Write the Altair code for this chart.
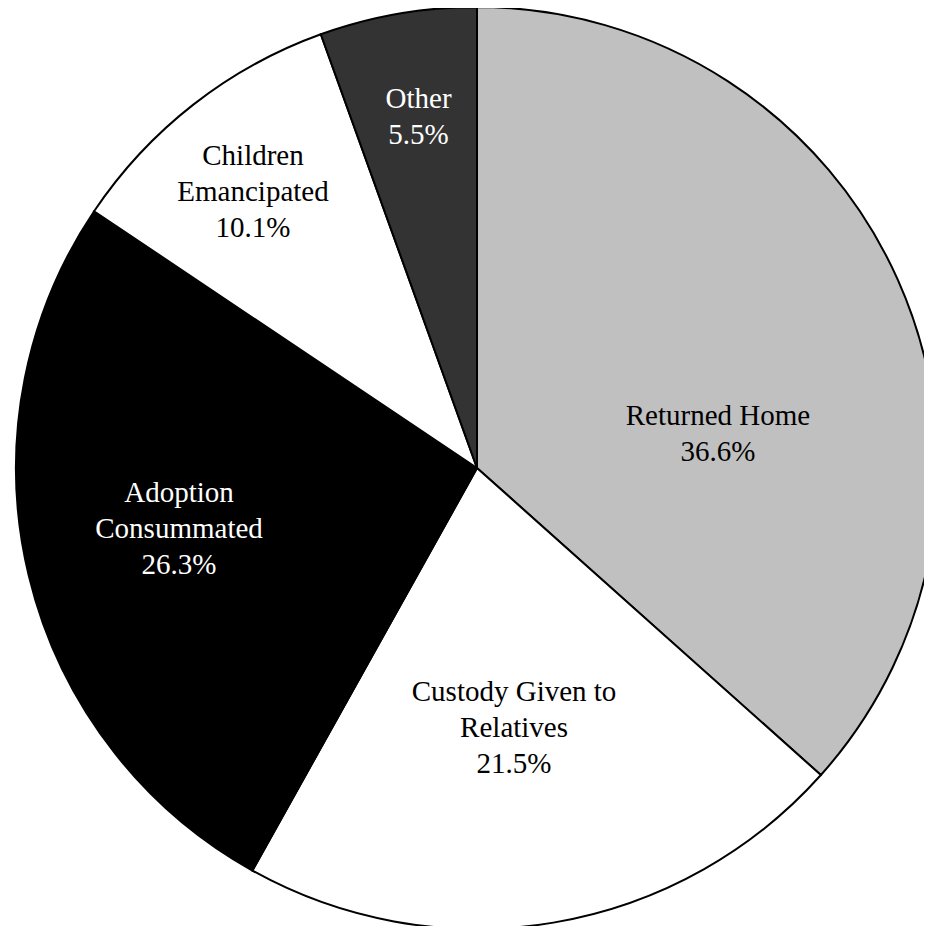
import altair as alt
import pandas as pd

# Data
categories = ["Returned Home", "Custody Given to Relatives", "Adoption Consummated",
              "Children Emancipated", "Other"]
label_text = ["Returned Home", "Custody Given to\nRelatives", "Adoption\nConsummated",
              "Children\nEmancipated", "Other"]
values = [36.6, 21.5, 26.3, 10.1, 5.5]

# Styles (not data)
slice_colors = ["#c0c0c0", "#ffffff", "#000000", "#ffffff", "#333333"]
text_colors = ["#000000", "#000000", "#ffffff", "#000000", "#ffffff"]
label_radius = [246.5, 227.0, 299.0, 384.1, 373.6]   # px from centre (first line)
label_shift = [3.31, 0.04, 2.42, 0.64, 0.25]         # percent of circle

df = pd.DataFrame({"category": categories, "label": label_text, "value": values,
                   "order": list(range(len(categories)))})
cum = df["value"].cumsum()
df["mid"] = cum - df["value"] / 2
df["lab_pos"] = df["mid"] + pd.Series(label_shift)
df["lab_r"] = label_radius
df["tcolor"] = text_colors

theta_scale = alt.Scale(domain=[0, 100])
CX, CY, R = 469, 460, 461

base = alt.Chart(df)

arcs = base.mark_arc(outerRadius=R, stroke="#000000", strokeWidth=2).encode(
    theta=alt.Theta("value:Q", stack=True, scale=theta_scale),
    order=alt.Order("order:Q"),
    color=alt.Color("category:N",
                    scale=alt.Scale(domain=categories, range=slice_colors),
                    legend=None),
    x=alt.value(CX),
    y=alt.value(CY),
)

texts = base.transform_calculate(
    txt="datum.label + '\\n' + format(datum.value, '.1f') + '%'"
).mark_text(
    font="Liberation Serif", fontSize=29, lineHeight=36, lineBreak="\n",
    align="center", baseline="middle"
).encode(
    theta=alt.Theta("lab_pos:Q", stack=None, scale=theta_scale),
    radius=alt.Radius("lab_r:Q", scale=None),
    text=alt.Text("txt:N"),
    color=alt.Color("tcolor:N", scale=None),
    x=alt.value(CX),
    y=alt.value(CY),
)

chart = alt.layer(arcs, texts).properties(
    width=916, height=918,
    autosize=alt.AutoSizeParams(type="none"),
    padding=0,
    background="#ffffff",
).configure_view(strokeWidth=0)

chart.save("out.html", embed_options={"renderer": "svg", "actions": False})
